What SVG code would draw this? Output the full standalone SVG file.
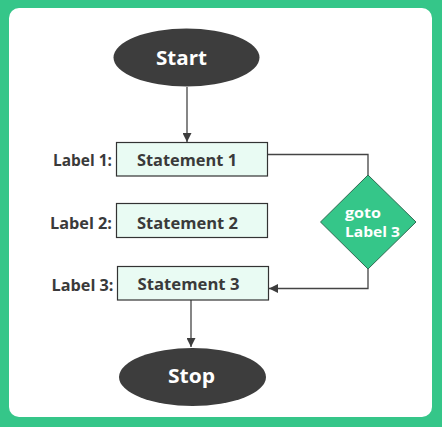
<svg xmlns="http://www.w3.org/2000/svg" width="442" height="427" viewBox="0 0 442 427">
<style>
.t{font-family:"Open Sans","Liberation Sans",sans-serif;font-weight:700;}
.lbl{font-size:15.5px;fill:#3a3a3a;text-anchor:end;}
.st{font-size:15.5px;fill:#3a3a3a;}
.box{fill:#e9fbf3;stroke:#333;stroke-width:1.2;}
.term{fill:#3d3d3d;}
.tt{font-size:19.5px;fill:#fff;text-anchor:middle;}
.ln{fill:none;stroke:#444;stroke-width:1.3;}
</style>
<defs>
<marker id="ah" viewBox="0 0 10 10" refX="10" refY="5" markerWidth="9" markerHeight="9" markerUnits="userSpaceOnUse" orient="auto">
<path d="M0,0 L10,5 L0,10 Z" fill="#3d3d3d"/>
</marker>
</defs>
<rect x="0" y="0" width="442" height="427" fill="#35c689"/>
<rect x="9" y="8" width="423" height="409" rx="10" fill="#ffffff"/>
<g id="connectors">
<line class="ln" x1="187" y1="87" x2="187" y2="142" marker-end="url(#ah)"/>
<polyline class="ln" points="268,154.5 368,154.5 368,175"/>
<polyline class="ln" points="368,269 368,288.5 269,288.5" marker-end="url(#ah)"/>
<line class="ln" x1="191" y1="300" x2="191" y2="347" marker-end="url(#ah)"/>
</g>
<g id="start">
<ellipse class="term" cx="186.5" cy="57.5" rx="73" ry="29"/>
<text class="t tt" x="181.5" y="65" textLength="51" lengthAdjust="spacingAndGlyphs">Start</text>
</g>
<g id="statement1">
<rect class="box" x="116.5" y="142.5" width="151" height="33.5"/>
<text class="t lbl" x="112" y="165.5" textLength="59" lengthAdjust="spacingAndGlyphs">Label 1:</text>
<text class="t st" x="137" y="165.5" textLength="100" lengthAdjust="spacingAndGlyphs">Statement 1</text>
</g>
<g id="statement2">
<rect class="box" x="116.5" y="203.5" width="151" height="34"/>
<text class="t lbl" x="112" y="229" textLength="62" lengthAdjust="spacingAndGlyphs">Label 2:</text>
<text class="t st" x="137" y="229" textLength="101" lengthAdjust="spacingAndGlyphs">Statement 2</text>
</g>
<g id="statement3">
<rect class="box" x="117.5" y="266.5" width="151" height="33.5"/>
<text class="t lbl" x="113.5" y="290.5" textLength="62" lengthAdjust="spacingAndGlyphs">Label 3:</text>
<text class="t st" x="137.5" y="289.5" textLength="102" lengthAdjust="spacingAndGlyphs">Statement 3</text>
</g>
<g id="goto">
<polygon points="368,175 416,222 368,269 320.5,222" fill="#35c689" stroke="#2f6b52" stroke-width="1"/>
<text class="t" x="345" y="218" font-size="14.5" fill="#ffffff" textLength="36" lengthAdjust="spacingAndGlyphs">goto</text>
<text class="t" x="345" y="237" font-size="14.5" fill="#ffffff" textLength="55" lengthAdjust="spacingAndGlyphs">Label 3</text>
</g>
<g id="stop">
<ellipse class="term" cx="192.5" cy="377" rx="73.5" ry="29"/>
<text class="t tt" x="191.5" y="383" textLength="47" lengthAdjust="spacingAndGlyphs">Stop</text>
</g>
</svg>
